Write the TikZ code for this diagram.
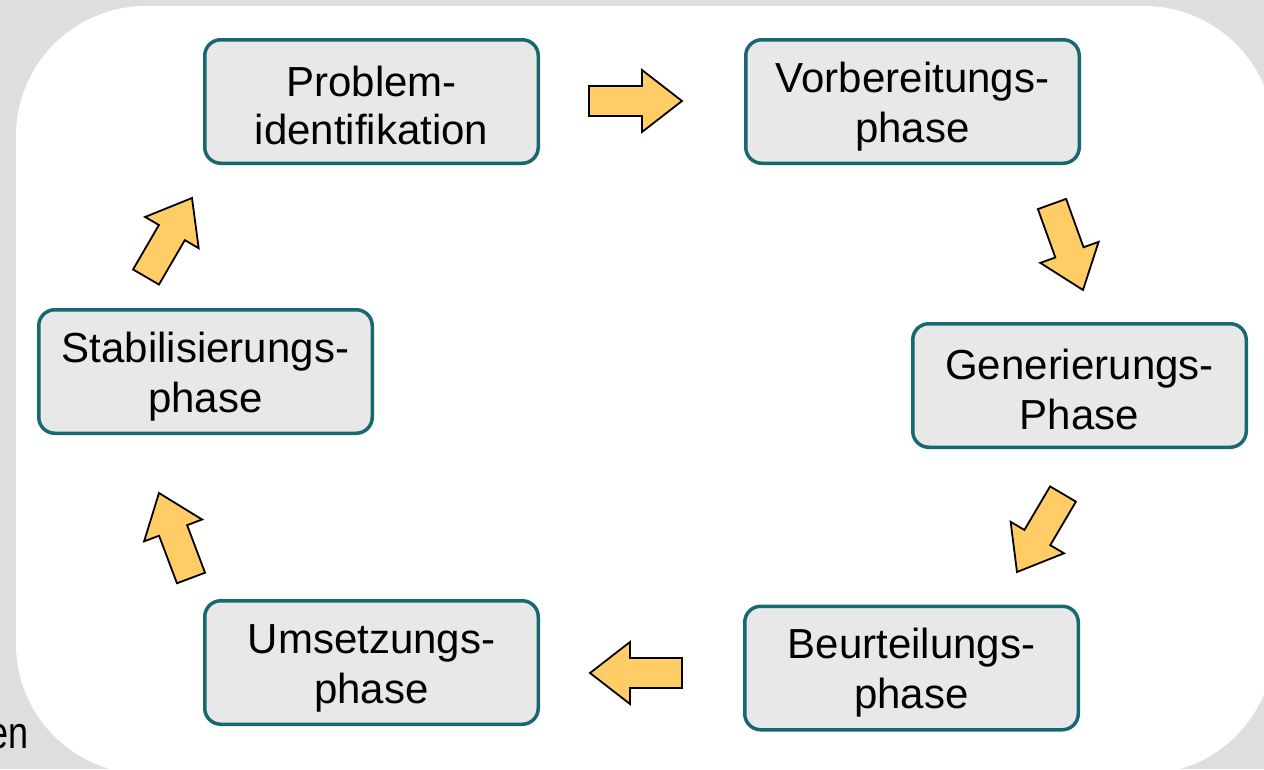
\documentclass[tikz,border=0pt]{standalone}
\usepackage{fontspec}
\setmainfont{Liberation Sans}
\usetikzlibrary{calc}
\definecolor{bggray}{RGB}{222,222,222}
\definecolor{boxfill}{RGB}{232,232,232}
\definecolor{boxline}{RGB}{24,104,112}
\definecolor{arrowfill}{RGB}{255,204,102}
\newcommand\lnstrut{\rule[-2.4pt]{0pt}{42.4pt}}
\newcommand\blockarr[2]{%
  \coordinate (hb) at ($(#2)!40pt!(#1)$);
  \draw[blockarrow]
    ($(#1)!15pt!90:(#2)$) --
    ($(hb)!15pt!-90:(#1)$) --
    ($(hb)!31pt!-90:(#1)$) --
    (#2) --
    ($(hb)!31pt!90:(#1)$) --
    ($(hb)!15pt!90:(#1)$) --
    ($(#1)!15pt!-90:(#2)$) -- cycle;}
\begin{document}
\begin{tikzpicture}[x=1pt,y=-1pt,
  phase/.style={draw=boxline, fill=boxfill, line width=3.5pt, rounded corners=16pt,
    minimum width=333.5pt, minimum height=123.5pt, align=center,
    font=\fontsize{42}{48}\selectfont, inner sep=0pt},
  blockarrow/.style={draw=black, fill=arrowfill, line width=1.8pt, line join=miter},
  plain/.style={font=\fontsize{45}{50}\selectfont, inner sep=0pt}]
\useasboundingbox (0,0) rectangle (1264,769);
\clip (0,0) rectangle (1264,769);
\fill[bggray] (0,0) rectangle (1264,769);
\fill[white, rounded corners=130pt] (16,6) rectangle (1274,774);

\node[phase] (p1) at (371.5,101.5) {\lnstrut Problem-\\\lnstrut identifikation};
\node[phase] (p2) at (912.5,101.5) {\lnstrut Vorbereitungs-\\\lnstrut phase};
\node[phase] (p3) at (1079.5,385.5) {\lnstrut Generierungs-\\\lnstrut Phase};
\node[phase] (p4) at (911.5,668) {\lnstrut Beurteilungs-\\\lnstrut phase};
\node[phase] (p5) at (371.5,662.5) {\lnstrut Umsetzungs-\\\lnstrut phase};
\node[phase] (p6) at (205.5,371.5) {\lnstrut Stabilisierungs-\\\lnstrut phase};

\coordinate (a1s) at (589,101);  \coordinate (a1e) at (682,101);
\coordinate (a2s) at (1052,204); \coordinate (a2e) at (1083,290);
\coordinate (a3s) at (1063,494); \coordinate (a3e) at (1017,572);
\coordinate (a4s) at (682,673);  \coordinate (a4e) at (590,673);
\coordinate (a5s) at (191,578);  \coordinate (a5e) at (159,493);
\coordinate (a6s) at (146,277);  \coordinate (a6e) at (192,198);
\blockarr{a1s}{a1e}
\blockarr{a2s}{a2e}
\blockarr{a3s}{a3e}
\blockarr{a4s}{a4e}
\blockarr{a5s}{a5e}
\blockarr{a6s}{a6e}

\node[plain, anchor=base east] (en) at (29,748) {\scalebox{0.8}[1]{en}};
\end{tikzpicture}
\end{document}
